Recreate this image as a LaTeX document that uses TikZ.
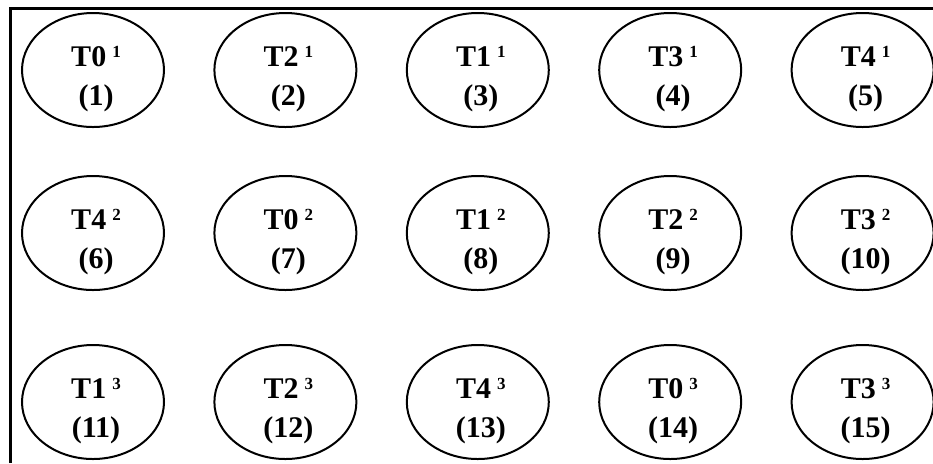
\documentclass[tikz,border=0pt]{standalone}
\usepackage{fontspec}
\setmainfont{Liberation Serif}
\usetikzlibrary{shapes.geometric}

\tikzset{
  task/.style={ellipse, draw, line width=1pt, minimum width=71pt,
    minimum height=57pt, inner sep=0pt},
  tasklabel/.style={font=\bfseries\fontsize{15}{19.5}\selectfont, align=center}
}
\newcommand{\rnd}[1]{\hspace{3pt}\raisebox{4.6pt}{\fontsize{8.5}{9}\selectfont\bfseries #1}}

\begin{document}
\begin{tikzpicture}
\useasboundingbox (0pt,0pt) rectangle (466.5pt,-231.5pt);
% frame, only the top and left edges show
\draw[line width=1.5pt] (5pt,-231.5pt) -- (5pt,-4pt) -- (466.5pt,-4pt);
% the fifteen tasks: number/name/round/column/row
\foreach \n/\t/\r/\c/\y in {1/T0/1/0/35, 2/T2/1/1/35, 3/T1/1/2/35, 4/T3/1/3/35, 5/T4/1/4/35,
    6/T4/2/0/116.5, 7/T0/2/1/116.5, 8/T1/2/2/116.5, 9/T2/2/3/116.5, 10/T3/2/4/116.5,
    11/T1/3/0/201, 12/T2/3/1/201, 13/T4/3/2/201, 14/T0/3/3/201, 15/T3/3/4/201} {
  \node[task] (t\n) at ({46.5pt+96.2pt*\c},-\y pt) {};
  \node[tasklabel] (l\n) at ([xshift=1.5pt,yshift=-4.5pt]t\n.center) {\t\rnd{\r}\\(\n)};
}
\end{tikzpicture}
\end{document}
